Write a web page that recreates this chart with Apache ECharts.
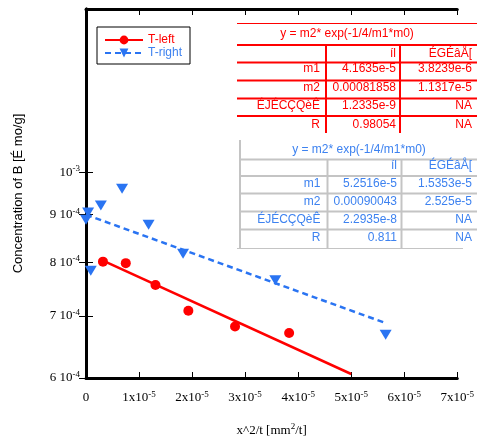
<!DOCTYPE html>
<html>
<head>
<meta charset="utf-8">
<script src="https://cdn.jsdelivr.net/npm/echarts@6/dist/echarts.min.js"></script>
<style>
  html, body { margin: 0; padding: 0; background: #fff; }
  #chart { width: 477px; height: 446px; }
</style>
</head>
<body>
<div id="chart"></div>
<script>
// measured points
const leftX = [0.32e-5, 0.75e-5, 1.31e-5, 1.93e-5, 2.81e-5, 3.83e-5]
const leftY = [8.01e-4, 7.98e-4, 7.56e-4, 7.09e-4, 6.82e-4, 6.71e-4]
const rightX = [0.0, 0.04e-5, 0.09e-5, 0.28e-5, 0.68e-5, 1.18e-5, 1.83e-5, 3.57e-5, 5.65e-5]
const rightY = [8.89e-4, 9.05e-4, 7.83e-4, 9.21e-4, 9.60e-4, 8.78e-4, 8.17e-4, 7.65e-4, 6.68e-4]

// fit lines (straight on the log axis), end points
const leftFitX = [0.32e-5, 5.0e-5]
const leftFitY = [8.03e-4, 6.06e-4]
const rightFitX = [0.0, 5.67e-5]
const rightFitY = [9.00e-4, 6.87e-4]

const yTicks = [6e-4, 7e-4, 8e-4, 9e-4, 1e-3]

// fit tables
const tableTitle = 'y = m2* exp(-1/4/m1*m0)'
const tableHeader = ['', 'íl', 'ÉGÉâÅ[']
const rowNames = ['m1', 'm2', 'ÉJÉCÇQèÊ', 'R']
const leftValues = ['4.1635e-5', '0.00081858', '1.2335e-9', '0.98054']
const leftErrors = ['3.8239e-6', '1.1317e-5', 'NA', 'NA']
const rightValues = ['5.2516e-5', '0.00090043', '2.2935e-8', '0.811']
const rightErrors = ['1.5353e-5', '2.525e-5', 'NA', 'NA']

const RED = '#ff0000'
const BLUE = '#2a74f2'
const BLUE_TXT = '#3d82f0'
const GRAY = '#c4c4c4'
const SERIF = '"Liberation Serif", "DejaVu Serif", serif'
const SANS = '"Liberation Sans", Arial, sans-serif'

const lg = v => Math.log10(v)
const pairs = (xs, ys) => xs.map((x, i) => [x, lg(ys[i])])

const supRich = {
  b: { fontSize: 13, fontFamily: SERIF, color: '#000', lineHeight: 16 },
  s: { fontSize: 9, fontFamily: SERIF, color: '#000', lineHeight: 9, padding: [0, 0, 7, 0] }
}

function yLabel(v) {
  const m = Math.pow(10, v)
  if (Math.abs(m - 1e-3) < 1e-6) return '{b|10}{s|-3}'
  return '{b|' + Math.round(m * 1e4) + ' 10}{s|-4}'
}

function xLabel(v) {
  const n = Math.round(v / 1e-5)
  if (n === 0) return '{b|0}'
  return '{b|' + n + 'x10}{s|-5}'
}

function txt(x, y, s, color, align) {
  return {
    type: 'text', z: 101, x: x, y: y,
    style: { text: s, fill: color, font: '12px ' + SANS, textAlign: align || 'right', textVerticalAlign: 'middle' }
  }
}

function hline(x1, x2, y, color, w) {
  return { type: 'line', z: 101, shape: { x1: x1, y1: y, x2: x2, y2: y }, style: { stroke: color, lineWidth: w } }
}

function vline(x, y1, y2, color, w) {
  return { type: 'line', z: 101, shape: { x1: x, y1: y1, x2: x, y2: y2 }, style: { stroke: color, lineWidth: w } }
}

function buildTable(t) {
  const els = []
  els.push({ type: 'rect', z: 100, shape: { x: t.left, y: t.top, width: 477 - t.left, height: t.bottom - t.top }, style: { fill: '#fff' } })
  if (t.topLine) els.push(hline(t.left, 477, t.topLine, t.line, 1))
  if (t.leftLine) els.push(vline(t.leftLine, t.top + 3, t.bottom, t.line, 2))
  t.hLines.forEach(y => els.push(hline(t.lineLeft, 477, y, t.line, 2)))
  if (t.bottomLine) els.push(hline(t.left, 463, t.bottomLine, t.line, 1))
  t.vLines.forEach(x => els.push(vline(x, t.hLines[0], t.bottom, t.line, 2)))
  els.push(txt(t.titleX, t.titleY, tableTitle, t.text, 'center'))
  els.push(txt(t.cols[1], t.headerY, tableHeader[1], t.text))
  els.push(txt(t.cols[2], t.headerY, tableHeader[2], t.text))
  rowNames.forEach((name, i) => {
    els.push(txt(t.cols[0], t.rowY[i], name, t.text))
    els.push(txt(t.cols[1], t.rowY[i], t.values[i], t.text))
    els.push(txt(t.cols[2], t.rowY[i], t.errors[i], t.text))
  })
  return els
}

const redTable = buildTable({
  left: 237, top: 23, bottom: 133, topLine: 23.5, lineLeft: 237,
  hLines: [45, 62.5, 80.5, 98.5, 116], vLines: [326, 400],
  line: RED, text: RED, titleX: 347, titleY: 34, headerY: 53.5,
  rowY: [69, 87.5, 106, 124.5], cols: [320, 396, 472],
  values: leftValues, errors: leftErrors
})

const blueTable = buildTable({
  left: 237, top: 137, bottom: 248, leftLine: 240, lineLeft: 240, bottomLine: 248.5,
  hLines: [159.5, 176, 193.5, 211.5, 229.5], vLines: [327.5, 401.5],
  line: GRAY, text: BLUE_TXT, titleX: 359, titleY: 150, headerY: 166,
  rowY: [184, 202, 220, 237.5], cols: [320.5, 397, 472],
  values: rightValues, errors: rightErrors
})

const chart = echarts.init(document.getElementById('chart'))

const option = {
  animation: false,
  backgroundColor: '#fff',
  grid: { left: 86, right: 14, top: 9, bottom: 68 },
  legend: {
    left: 97, top: 27, orient: 'vertical',
    data: [
      { name: 'T-left', textStyle: { color: RED } },
      { name: 'T-right', textStyle: { color: BLUE_TXT } }
    ],
    itemWidth: 38, itemHeight: 11, itemGap: 1,
    padding: [7, 8, 5, 7],
    borderColor: '#000', borderWidth: 1,
    textStyle: { fontSize: 12, fontFamily: SANS },
    selectedMode: false
  },
  xAxis: [
    {
      type: 'value', min: 0, max: 7e-5, interval: 1e-5,
      name: 'x^2/t [mm{s|2}/t]', nameLocation: 'middle', nameGap: 46,
      nameTextStyle: {
        fontSize: 13, fontFamily: SERIF, color: '#000',
        rich: {
          s: { fontSize: 9, fontFamily: SERIF, color: '#000', lineHeight: 9, padding: [0, 0, 7, 0] }
        }
      },
      axisLine: { show: true, lineStyle: { color: '#000', width: 3 } },
      axisTick: { inside: true, length: 6, lineStyle: { color: '#000', width: 1 } },
      axisLabel: { margin: 12, formatter: xLabel, rich: supRich, showMaxLabel: true, showMinLabel: true },
      splitLine: { show: false }
    },
    {
      type: 'value', min: 0, max: 7e-5, interval: 1e-5, position: 'top',
      axisLine: { show: true, lineStyle: { color: '#000', width: 3 } },
      axisTick: { inside: true, length: 6, lineStyle: { color: '#000', width: 1 } },
      axisLabel: { show: false },
      splitLine: { show: false }
    }
  ],
  yAxis: [
    {
      type: 'value', min: lg(6e-4), max: lg(1.5e-3),
      name: 'Concentration of B [É mo/g]', nameLocation: 'middle', nameGap: 61, nameRotate: 90,
      nameTextStyle: { fontSize: 13, fontFamily: SANS, color: '#000' },
      axisLine: { show: true, lineStyle: { color: '#000', width: 3 } },
      axisTick: { inside: true, length: 7, customValues: yTicks.map(lg), lineStyle: { color: '#000', width: 1 } },
      axisLabel: { margin: 6, customValues: yTicks.map(lg), formatter: yLabel, rich: supRich },
      splitLine: { show: false }
    },
    {
      type: 'value', min: lg(6e-4), max: lg(1.5e-3), position: 'right',
      axisLine: { show: true, lineStyle: { color: '#000', width: 3 } },
      axisTick: { inside: true, length: 7, customValues: yTicks.map(lg), lineStyle: { color: '#000', width: 1 } },
      axisLabel: { show: false },
      splitLine: { show: false }
    }
  ],
  series: [
    {
      name: 'T-left', type: 'line', data: pairs(leftFitX, leftFitY),
      symbol: 'circle', showSymbol: false, silent: true,
      lineStyle: { color: RED, width: 2.5 }, itemStyle: { color: RED }, z: 2
    },
    {
      name: 'T-right', type: 'line', data: pairs(rightFitX, rightFitY),
      symbol: 'triangle', symbolRotate: 180, showSymbol: false, silent: true,
      lineStyle: { color: BLUE, width: 2.5, type: [6, 4] }, itemStyle: { color: BLUE }, z: 2
    },
    {
      name: 'T-left points', type: 'scatter', data: pairs(leftX, leftY),
      symbol: 'circle', symbolSize: 10, itemStyle: { color: RED, opacity: 1 }, z: 3
    },
    {
      name: 'T-right points', type: 'scatter', data: pairs(rightX, rightY),
      symbol: 'triangle', symbolRotate: 180, symbolSize: [12, 10], itemStyle: { color: BLUE, opacity: 1 }, z: 3
    }
  ],
  graphic: redTable.concat(blueTable)
}

chart.setOption(option)
</script>
</body>
</html>
